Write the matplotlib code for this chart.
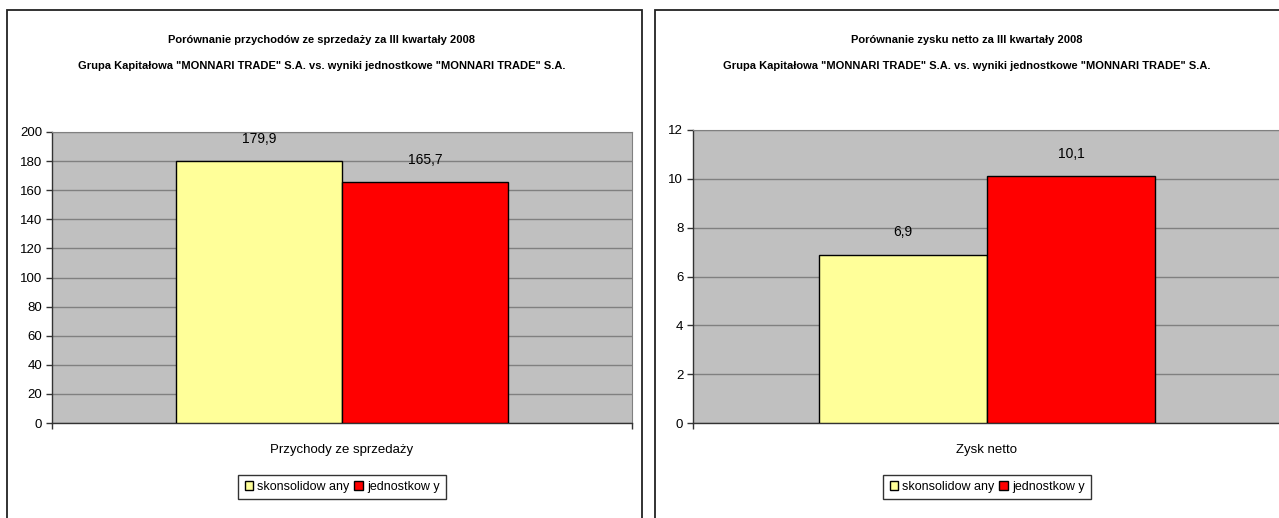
import matplotlib
matplotlib.use("Agg")
import matplotlib.pyplot as plt
from matplotlib.patches import Rectangle, Patch

plt.rcParams['font.family'] = ['Liberation Sans Narrow', 'Liberation Sans', 'DejaVu Sans']

W, H = 1279, 518

# data
series_names = ["skonsolidow any", "jednostkow y"]
colors = ["#FFFF99", "#FF0000"]

left_title = ["Porównanie przychodów ze sprzedaży za III kwartały 2008",
              'Grupa Kapitałowa "MONNARI TRADE" S.A. vs. wyniki jednostkowe "MONNARI TRADE" S.A.']
left_category = "Przychody ze sprzedaży"
left_values = [179.9, 165.7]
left_labels = ["179,9", "165,7"]
left_ticks = [0, 20, 40, 60, 80, 100, 120, 140, 160, 180, 200]

right_title = ["Porównanie zysku netto za III kwartały 2008",
               'Grupa Kapitałowa "MONNARI TRADE" S.A. vs. wyniki jednostkowe "MONNARI TRADE" S.A.']
right_category = "Zysk netto"
right_values = [6.9, 10.1]
right_labels = ["6,9", "10,1"]
right_ticks = [0, 2, 4, 6, 8, 10, 12]


def px_rect(x0, y0, x1, y1):
    # pixel box (top-left origin) -> figure fraction
    return [x0 / W, 1 - y1 / H, (x1 - x0) / W, (y1 - y0) / H]


def draw_chart(fig, panel, axbox, titles, category, values, labels, ticks):
    px0, px1 = panel
    # panel border
    fig.patches.append(Rectangle((px0 / W, -0.1), (px1 - px0) / W, 1.1 - 10 / H,
                                 transform=fig.transFigure, fill=False,
                                 edgecolor="#222222", linewidth=1.3))
    cx = (axbox[0] + axbox[2]) / 2 / W
    tx = cx - 20 / W
    fig.text(tx, 1 - 40 / H, titles[0], ha="center", va="center",
             fontsize=8.0, fontweight="bold")
    fig.text(tx, 1 - 66 / H, titles[1], ha="center", va="center",
             fontsize=8.0, fontweight="bold")

    ax = fig.add_axes(px_rect(*axbox))
    ax.set_facecolor("#C0C0C0")
    w = 1 / 3.5
    xs = [-w / 2, w / 2]
    for x, v, c, lab in zip(xs, values, colors, labels):
        ax.bar(x, v, width=w, color=c, edgecolor="black", linewidth=1.0, zorder=3)
        ax.annotate(lab, (x, v), xytext=(0, 16), textcoords="offset points",
                    ha="center", va="center", fontsize=10)
    ax.set_xlim(-0.5, 0.5)
    ax.set_ylim(ticks[0], ticks[-1])
    ax.set_yticks(ticks)
    ax.set_yticklabels([str(t) for t in ticks], fontsize=9.5)
    ax.yaxis.grid(True, color="#808080", linewidth=1.0, zorder=0)
    ax.set_axisbelow(True)
    ax.set_xticks([-0.5, 0.5])
    ax.set_xticklabels([])
    ax.tick_params(axis="both", length=4, width=1, color="#333333", pad=3)
    for s in ["top", "right"]:
        ax.spines[s].set_color("#808080")
    for s in ["left", "bottom"]:
        ax.spines[s].set_color("#333333")
        ax.spines[s].set_linewidth(1.0)
    ax.text(0.5, -27 / (axbox[3] - axbox[1]), category, transform=ax.transAxes,
            ha="center", va="center", fontsize=9.5)

    handles = [Patch(facecolor=c, edgecolor="black", linewidth=1.0) for c in colors]
    fig.legend(handles, series_names, loc="center",
               bbox_to_anchor=(cx, 1 - 487 / H), ncol=2, frameon=True,
               fontsize=9, handlelength=0.7, handleheight=0.7, handletextpad=0.3,
               columnspacing=0.4, borderpad=0.5, fancybox=False,
               edgecolor="black", borderaxespad=0)
    return ax


fig = plt.figure(figsize=(W / 100, H / 100), dpi=100)
fig.patch.set_facecolor("white")

draw_chart(fig, (7, 642), (52, 132, 632, 423), left_title, left_category,
           left_values, left_labels, left_ticks)
draw_chart(fig, (655, 1290), (693, 130, 1281, 423), right_title, right_category,
           right_values, right_labels, right_ticks)

fig.savefig("out.png", dpi=100)
